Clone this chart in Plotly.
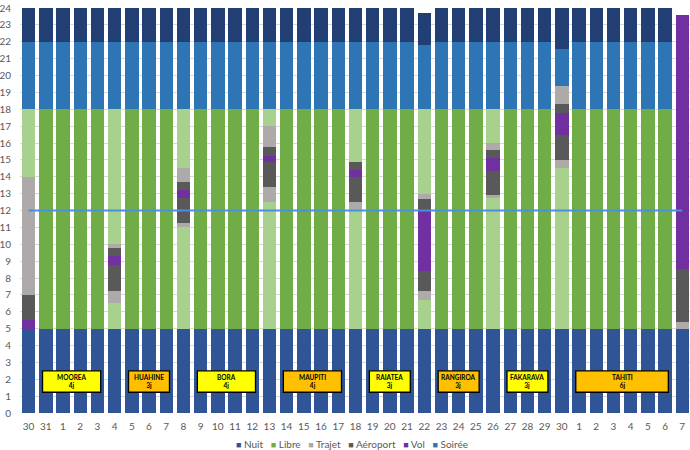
import plotly.graph_objects as go

# ---------------- data ----------------
jours = ["30", "31", "1", "2", "3", "4", "5", "6", "7", "8",
         "9", "10", "11", "12", "13", "14", "15", "16", "17", "18",
         "19", "20", "21", "22", "23", "24", "25", "26", "27", "28",
         "29", "30", "1", "2", "3", "4", "5", "6", "7"]

# hours per segment, stacked bottom -> top
nuit_matin    = [5, 5, 5, 5, 5, 5, 5, 5, 5, 5,
                 5, 5, 5, 5, 5, 5, 5, 5, 5, 5,
                 5, 5, 5, 5, 5, 5, 5, 5, 5, 5,
                 5, 5, 5, 5, 5, 5, 5, 5, 5]
libre_voyage_a = [0, 0, 0, 0, 0, 1.5, 0, 0, 0, 6,
                  0, 0, 0, 0, 7.5, 0, 0, 0, 0, 7,
                  0, 0, 0, 1.7, 0, 0, 0, 7.75, 0, 0,
                  0, 9.5, 0, 0, 0, 0, 0, 0, 0]
trajet_a      = [0, 0, 0, 0, 0, 0.75, 0, 0, 0, 0.25,
                 0, 0, 0, 0, 0.9, 0, 0, 0, 0, 0.5,
                 0, 0, 0, 0.55, 0, 0, 0, 0.15, 0, 0,
                 0, 0.5, 0, 0, 0, 0, 0, 0, 0.4]
aeroport_a    = [0, 0, 0, 0, 0, 1.5, 0, 0, 0, 1.5,
                 0, 0, 0, 0, 1.5, 0, 0, 0, 0, 1.5,
                 0, 0, 0, 1.15, 0, 0, 0, 1.45, 0, 0,
                 0, 1.5, 0, 0, 0, 0, 0, 0, 3.15]
vol           = [0.5, 0, 0, 0, 0, 0.55, 0, 0, 0, 0.45,
                 0, 0, 0, 0, 0.35, 0, 0, 0, 0, 0.4,
                 0, 0, 0, 3.7, 0, 0, 0, 0.75, 0, 0,
                 0, 1.25, 0, 0, 0, 0, 0, 0, 15.05]
aeroport_b    = [1.5, 0, 0, 0, 0, 0.5, 0, 0, 0, 0.5,
                 0, 0, 0, 0, 0.5, 0, 0, 0, 0, 0.5,
                 0, 0, 0, 0.6, 0, 0, 0, 0.5, 0, 0,
                 0, 0.55, 0, 0, 0, 0, 0, 0, 0]
trajet_b      = [7, 0, 0, 0, 0, 0.2, 0, 0, 0, 0.8,
                 0, 0, 0, 0, 1.25, 0, 0, 0, 0, 0,
                 0, 0, 0, 0.3, 0, 0, 0, 0.4, 0, 0,
                 0, 1.05, 0, 0, 0, 0, 0, 0, 0]
libre_voyage_b = [4, 0, 0, 0, 0, 8, 0, 0, 0, 3.5,
                  0, 0, 0, 0, 1, 0, 0, 0, 0, 3.1,
                  0, 0, 0, 5, 0, 0, 0, 2, 0, 0,
                  0, 0, 0, 0, 0, 0, 0, 0, 0]
libre         = [0, 13, 13, 13, 13, 0, 13, 13, 13, 0,
                 13, 13, 13, 13, 0, 13, 13, 13, 13, 0,
                 13, 13, 13, 0, 13, 13, 13, 0, 13, 13,
                 13, 0, 13, 13, 13, 13, 13, 13, 0]
soiree        = [4, 4, 4, 4, 4, 4, 4, 4, 4, 4,
                 4, 4, 4, 4, 4, 4, 4, 4, 4, 4,
                 4, 4, 4, 3.8, 4, 4, 4, 4, 4, 4,
                 4, 2.25, 4, 4, 4, 4, 4, 4, 0]
nuit_soir     = [2, 2, 2, 2, 2, 2, 2, 2, 2, 2,
                 2, 2, 2, 2, 2, 2, 2, 2, 2, 2,
                 2, 2, 2, 1.9, 2, 2, 2, 2, 2, 2,
                 2, 2.4, 2, 2, 2, 2, 2, 2, 0]

objectif = 12

sejours = ["MOOREA", "HUAHINE", "BORA", "MAUPITI", "RAIATEA", "RANGIROA", "FAKARAVA", "TAHITI"]
sejour_jours = [4, 3, 4, 4, 3, 3, 3, 6]
sejour_debut = [1, 6, 10, 15, 20, 24, 28, 32]   # index of first day in `jours`

# ---------------- styles ----------------
C_NUIT = "#2F5597"
C_NUIT2 = "#223F73"
C_LIBRE = "#70AD47"
C_LIBRE_V = "#A9D18E"
C_TRAJET = "#AEAAAA"
C_AERO = "#595959"
C_VOL = "#7030A0"
C_SOIREE = "#2E75B6"
C_LINE = "#4A90E2"
BOX_COLORS = ["#FFFF00", "#FFC000"]
FONT = "Lato, Calibri, 'Liberation Sans', sans-serif"

x = list(range(len(jours)))

layers = [
    ("Nuit", nuit_matin, C_NUIT),
    ("Libre", libre_voyage_a, C_LIBRE_V),
    ("Trajet", trajet_a, C_TRAJET),
    ("Aéroport", aeroport_a, C_AERO),
    ("Vol", vol, C_VOL),
    ("Aéroport", aeroport_b, C_AERO),
    ("Trajet", trajet_b, C_TRAJET),
    ("Libre", libre_voyage_b, C_LIBRE_V),
    ("Libre", libre, C_LIBRE),
    ("Soirée", soiree, C_SOIREE),
    ("Nuit", nuit_soir, C_NUIT2),
]

fig = go.Figure()
for name, vals, col in layers:
    fig.add_trace(go.Bar(x=x, y=vals, name=name, marker=dict(color=col, line=dict(width=0)),
                         showlegend=False))

fig.add_trace(go.Scatter(x=x, y=[objectif] * len(x), mode="lines",
                         line=dict(color=C_LINE, width=2), showlegend=False, hoverinfo="skip"))

# stay boxes
for i, (nom, n, d) in enumerate(zip(sejours, sejour_jours, sejour_debut)):
    centre = d + (n - 1) / 2
    half = (n - 0.62) / 2
    fig.add_shape(type="rect", xref="x", yref="y", x0=centre - half, x1=centre + half,
                  y0=1.23, y1=2.5, fillcolor=BOX_COLORS[i % 2],
                  line=dict(color="black", width=1.3), layer="above")
    fig.add_annotation(x=centre, y=1.87, xref="x", yref="y", showarrow=False,
                       text=f"<b>{nom}</b><br><b>{n}j</b>",
                       font=dict(family=FONT, size=6.5, color="black"))

# legend (compact, Excel-style)
leg_items = [("Nuit", C_NUIT), ("Libre", C_LIBRE), ("Trajet", C_TRAJET),
             ("Aéroport", C_AERO), ("Vol", C_VOL), ("Soirée", C_SOIREE)]
leg_text = "&nbsp;&nbsp;&nbsp;".join(
    f"<span style='color:{c};font-size:9px'>■</span> {t}" for t, c in leg_items)
fig.add_annotation(x=0.495, y=-0.077, xref="paper", yref="paper", showarrow=False,
                   xanchor="center", yanchor="middle", text=leg_text,
                   font=dict(family=FONT, size=10, color="#595959"))

fig.update_layout(
    width=690, height=450,
    margin=dict(l=20, r=0, t=8, b=37),
    barmode="stack", bargap=0.22,
    plot_bgcolor="white", paper_bgcolor="white",
    font=dict(family=FONT, size=10, color="#595959"),
    showlegend=False,
)
fig.update_xaxes(range=[-0.5, 38.45], tickmode="array", tickvals=x, ticktext=jours,
                 showgrid=False, zeroline=False, showline=False, ticks="",
                 ticklabelstandoff=6, automargin=False,
                 tickfont=dict(family=FONT, size=10, color="#595959"))
fig.update_yaxes(range=[0, 24], dtick=1, tick0=0, showgrid=True, gridcolor="#D9D9D9",
                 gridwidth=1, zeroline=False, showline=False, ticks="",
                 ticklabelstandoff=8, automargin=False,
                 tickfont=dict(family=FONT, size=10, color="#595959"))

fig.write_html("out.html", config={"displayModeBar": False},
               post_script="document.body.style.margin='0';document.body.style.padding='0';")
